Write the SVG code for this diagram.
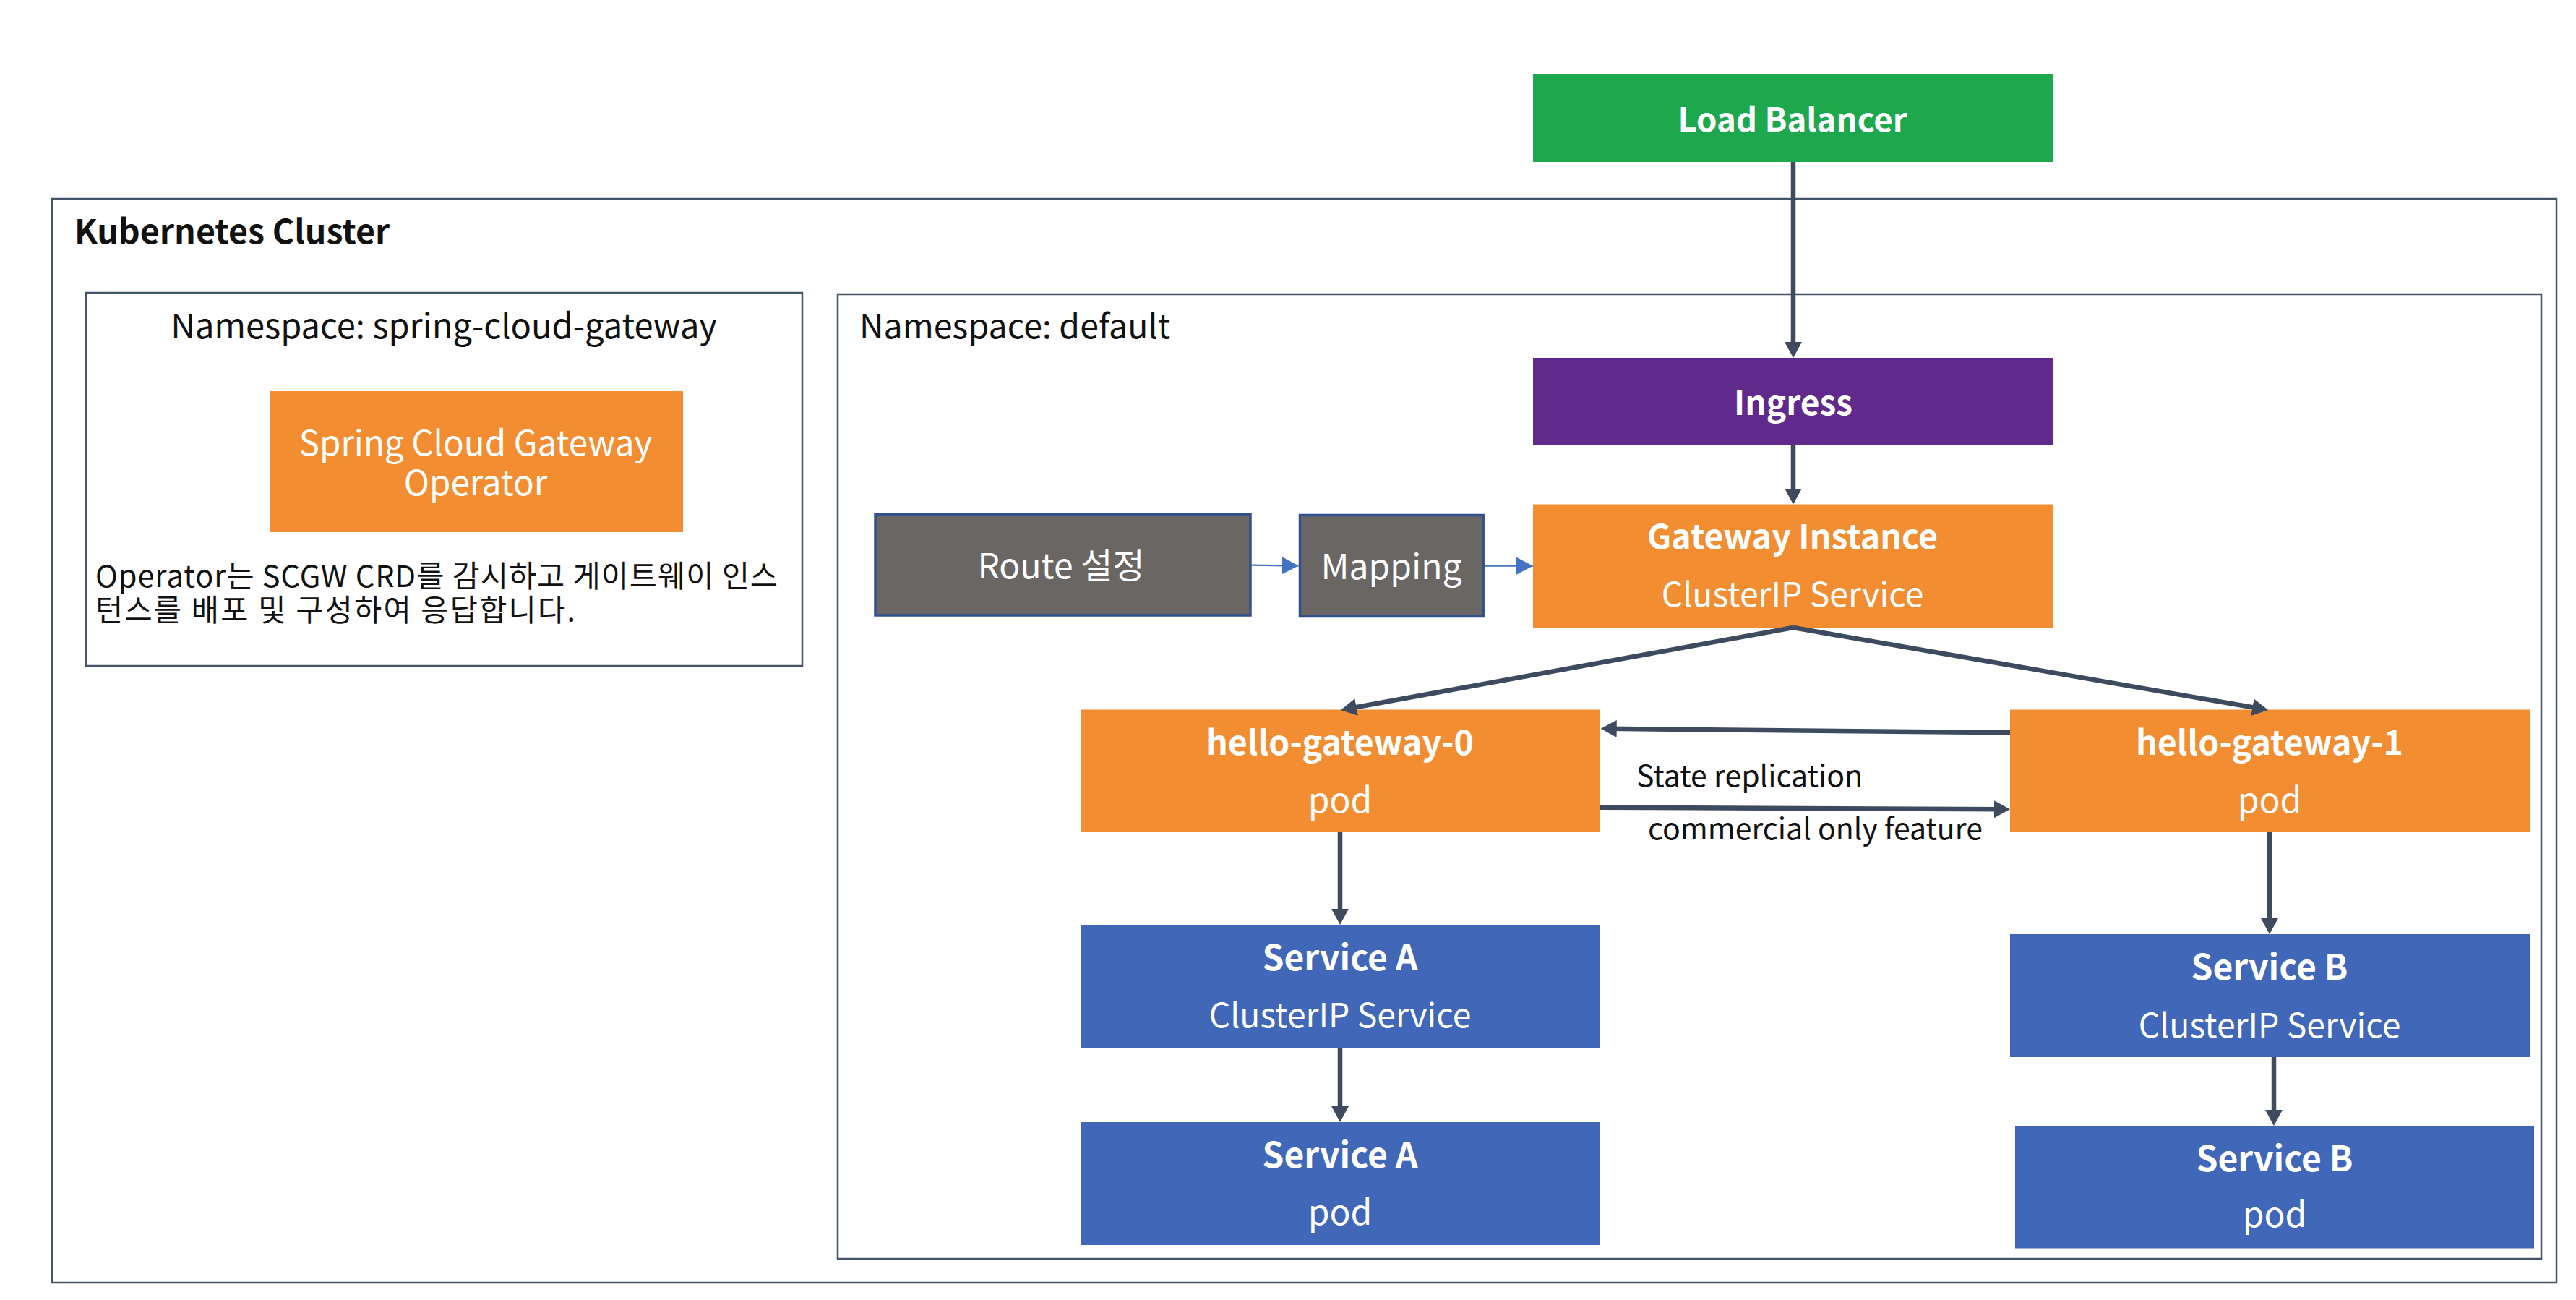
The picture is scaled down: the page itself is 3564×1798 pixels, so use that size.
<svg xmlns="http://www.w3.org/2000/svg" width="3564" height="1798" viewBox="0 0 3564 1798">
<style>
text{font-family:"Noto Sans CJK KR","Noto Sans",sans-serif}
.box{stroke:none}
.frame{fill:none;stroke:#44546A;stroke-width:2.5}
.green{fill:#1DA84E}.purple{fill:#62298D}.orange{fill:#F28E31}.blue{fill:#4167B8}
.gray{fill:#6A6664;stroke:#2F528F;stroke-width:3.5}
.t{fill:#FFFFFF;text-anchor:middle}
.tb{fill:#FFFFFF;font-weight:700;text-anchor:middle}
.lbl{fill:#111111}
.dark{fill:none;stroke:#3E4B5E;stroke-width:6.5}
.thin{fill:none;stroke:#4472C4;stroke-width:2.2}
</style>
<defs>
<marker id="ah" markerUnits="userSpaceOnUse" markerWidth="24" markerHeight="24" refX="12" refY="12" orient="auto">
<path d="M0,0 L22,12 L0,24 Z" fill="#3E4B5E"/>
</marker>
<marker id="ahb" markerUnits="userSpaceOnUse" markerWidth="24" markerHeight="24" refX="23" refY="12" orient="auto">
<path d="M0,0 L23,12 L0,24 Z" fill="#4472C4"/>
</marker>
</defs>
<rect width="3564" height="1798" fill="#FFFFFF"/>

<g id="kubernetes-cluster">
<rect class="frame" x="72" y="275" width="3465" height="1499"/>
<text class="lbl" x="103" y="337" font-size="46.5" font-weight="700">Kubernetes Cluster</text>
</g>

<g id="namespace-scg">
<rect class="frame" x="119" y="405" width="991" height="516"/>
<text class="lbl" x="614" y="468" font-size="47" text-anchor="middle">Namespace: spring-cloud-gateway</text>
</g>

<g id="namespace-default">
<rect class="frame" x="1159" y="407" width="2357" height="1334"/>
<text class="lbl" x="1189" y="468" font-size="46.5">Namespace: default</text>
</g>

<g id="operator">
<rect class="box orange" x="373" y="541" width="572" height="195"/>
<text class="t" x="658" y="630" font-size="47.5">Spring Cloud Gateway</text>
<text class="t" x="658" y="685" font-size="47.5">Operator</text>
</g>

<g id="operator-note">
<text class="lbl" x="132" y="812" font-size="41.5" textLength="944" lengthAdjust="spacing">Operator는 SCGW CRD를 감시하고 게이트웨이 인스</text>
<text class="lbl" x="132" y="859" font-size="41.5" textLength="664" lengthAdjust="spacing">턴스를 배포 및 구성하여 응답합니다.</text>
</g>

<g id="load-balancer">
<rect class="box green" x="2121" y="103" width="719" height="121"/>
<text class="tb" x="2480" y="182" font-size="45.5">Load Balancer</text>
</g>

<g id="ingress">
<rect class="box purple" x="2121" y="495" width="719" height="121"/>
<text class="tb" x="2481" y="574" font-size="46">Ingress</text>
</g>

<g id="gateway-instance">
<rect class="box orange" x="2121" y="697.5" width="719" height="170.5"/>
<text class="tb" x="2480" y="759" font-size="46.4">Gateway Instance</text>
<text class="t" x="2480" y="839" font-size="46.3">ClusterIP Service</text>
</g>

<g id="route-config">
<rect class="gray" x="1211" y="711.5" width="519" height="139.5"/>
<text class="t" x="1468" y="800" font-size="48">Route 설정</text>
</g>

<g id="mapping">
<rect class="gray" x="1798.5" y="712.5" width="253.7" height="140"/>
<text class="t" x="1925" y="801" font-size="48">Mapping</text>
</g>

<g id="hello-gateway-0">
<rect class="box orange" x="1495" y="981.5" width="719" height="169.5"/>
<text class="tb" x="1854" y="1044" font-size="46.5">hello-gateway-0</text>
<text class="t" x="1854" y="1124" font-size="48">pod</text>
</g>

<g id="hello-gateway-1">
<rect class="box orange" x="2781" y="981.5" width="719" height="169.5"/>
<text class="tb" x="3140" y="1044" font-size="46.5">hello-gateway-1</text>
<text class="t" x="3140" y="1124" font-size="48">pod</text>
</g>

<g id="service-a">
<rect class="box blue" x="1495" y="1279" width="719" height="170"/>
<text class="tb" x="1854" y="1342" font-size="48">Service A</text>
<text class="t" x="1854" y="1421" font-size="46.3">ClusterIP Service</text>
</g>

<g id="service-a-pod">
<rect class="box blue" x="1495" y="1552" width="719" height="170"/>
<text class="tb" x="1854" y="1615" font-size="48">Service A</text>
<text class="t" x="1854" y="1694" font-size="48">pod</text>
</g>

<g id="service-b">
<rect class="box blue" x="2781" y="1292" width="719" height="170"/>
<text class="tb" x="3140" y="1355" font-size="48">Service B</text>
<text class="t" x="3140" y="1435" font-size="46.3">ClusterIP Service</text>
</g>

<g id="service-b-pod">
<rect class="box blue" x="2788" y="1557" width="718" height="169.5"/>
<text class="tb" x="3147" y="1620" font-size="48">Service B</text>
<text class="t" x="3147" y="1697" font-size="48">pod</text>
</g>

<g id="connectors">
<line class="dark" x1="2481" y1="224" x2="2481" y2="485" marker-end="url(#ah)"/>
<line class="dark" x1="2481" y1="616" x2="2481" y2="687.5" marker-end="url(#ah)"/>
<polyline class="dark" points="2481,868 1864.8,980.2" marker-end="url(#ah)"/>
<polyline class="dark" points="2481,868 3128.2,980.3" marker-end="url(#ah)"/>
<line class="dark" x1="1854" y1="1151" x2="1854" y2="1269" marker-end="url(#ah)"/>
<line class="dark" x1="1854" y1="1449" x2="1854" y2="1542" marker-end="url(#ah)"/>
<line class="dark" x1="3140" y1="1151" x2="3140" y2="1282" marker-end="url(#ah)"/>
<line class="dark" x1="3146" y1="1462" x2="3146" y2="1547" marker-end="url(#ah)"/>
<line class="dark" x1="2781" y1="1013.3" x2="2224.7" y2="1007.8" marker-end="url(#ah)"/>
<line class="dark" x1="2214" y1="1116.7" x2="2771" y2="1119.3" marker-end="url(#ah)"/>
<line class="thin" x1="1731.7" y1="781.7" x2="1796.7" y2="782.5" marker-end="url(#ahb)"/>
<line class="thin" x1="2054" y1="782.7" x2="2121" y2="782.7" marker-end="url(#ahb)"/>
<text class="lbl" x="2264" y="1088" font-size="41">State replication</text>
<text class="lbl" x="2280" y="1161" font-size="41">commercial only feature</text>
</g>
</svg>
